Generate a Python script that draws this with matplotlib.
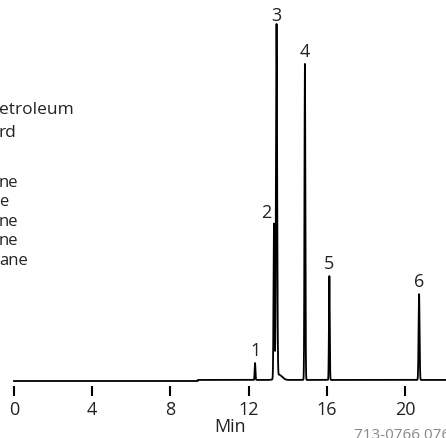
import numpy as np
import matplotlib
matplotlib.use("Agg")
import matplotlib.pyplot as plt

plt.rcParams['font.family'] = ['Open Sans', 'DejaVu Sans']

# ---- data ----
peak_labels = ["1", "2", "3", "4", "5", "6"]
peak_times = [12.33, 13.30, 13.43, 14.88, 16.13, 20.72]      # min
peak_heights = [4.8, 44.0, 100.0, 89.8, 29.5, 24.4]          # relative response
peak_sigmas = [0.020, 0.024, 0.030, 0.022, 0.020, 0.025]     # min
tail_time, tail_height, tail_sigma = 13.55, 1.5, 0.16        # tailing after peak 3
step_time, step_height = 9.4, 0.3                            # small baseline rise
x_ticks = [0, 4, 8, 12, 16, 20]
heading_fragments = ["etroleum", "rd"]
list_fragments = ["ne", "e", "ne", "ne", "ane"]
footer = "713-0766 0766"

# ---- figure ----
W, H = 446, 439
fig = plt.figure(figsize=(W / 100, H / 100), dpi=100)
ax_bottom_px = 387
ax = fig.add_axes([0, (H - ax_bottom_px) / H, 1, ax_bottom_px / H])

px_per_min = 19.55
x0_px = 14
ax.set_xlim(-x0_px / px_per_min, (W - x0_px) / px_per_min)
px_per_unit = 3.52
ax.set_ylim(-5 / px_per_unit, (ax_bottom_px - 5) / px_per_unit)

t = np.linspace(0, 22.3, 15000)
signal = np.where(t > step_time, step_height, 0.0)
for tr, h, s in zip(peak_times, peak_heights, peak_sigmas):
    signal = signal + h * np.exp(-0.5 * ((t - tr) / s) ** 2)
signal = signal + tail_height * np.exp(-0.5 * ((t - tail_time) / tail_sigma) ** 2)
ax.plot(t, signal, color='black', lw=1.3, solid_joinstyle='round')

for lab, tr, h in zip(peak_labels, peak_times, peak_heights):
    dx = -8 if lab == "2" else 0
    ax.annotate(lab, (tr, h), xytext=(dx * 0.72, 10), textcoords='offset points',
                ha='center', va='center', fontsize=13, color='#222222')

for s in ax.spines.values():
    s.set_visible(False)
ax.set_yticks([])
ax.set_xticks(x_ticks)
ax.set_xticklabels([str(v) for v in x_ticks])
ax.tick_params(axis='x', direction='out', length=7.2, width=1.5, pad=3,
               labelsize=13, colors='black', labelcolor='#222222')

fig.text(230 / W, 1 - 427 / H, "Min", ha='center', va='center', fontsize=13, color='#222222')

# partially visible legend text at the left edge
heading_y = [110, 133]
for txt, y in zip(heading_fragments, heading_y):
    fig.text(-1 / W, 1 - y / H, txt, ha='left', va='center', fontsize=12.5, color='#222222')
list_y = [183, 202, 222, 241, 261]
for txt, y in zip(list_fragments, list_y):
    fig.text(-1 / W, 1 - y / H, txt, ha='left', va='center', fontsize=12, color='#222222')

fig.text(354 / W, 1 - 436 / H, footer, ha='left', va='center', fontsize=11, color='#888888')

fig.savefig("out.png", dpi=100)
